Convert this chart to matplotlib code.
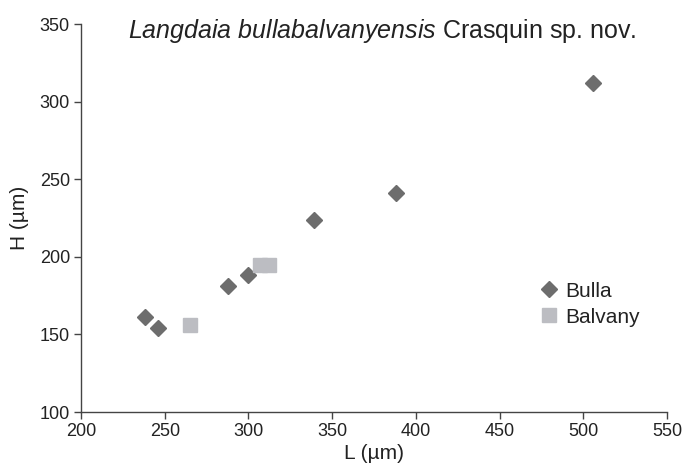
import matplotlib
matplotlib.use("Agg")
import matplotlib.pyplot as plt

# Bulla specimens
bulla_L = [238, 246, 288, 300, 339, 388, 506]
bulla_H = [161, 154, 181, 188, 224, 241, 312]

# Balvany specimens
balvany_L = [265, 307, 312]
balvany_H = [156, 195, 195]

x_ticks = [200, 250, 300, 350, 400, 450, 500, 550]
y_ticks = [100, 150, 200, 250, 300, 350]

plt.rcParams["font.family"] = ["Liberation Sans", "DejaVu Sans"]
plt.rcParams["mathtext.fontset"] = "custom"
plt.rcParams["mathtext.rm"] = "Liberation Sans"
plt.rcParams["mathtext.it"] = "Liberation Sans:italic"
text_col = "#222222"

fig = plt.figure(figsize=(6.83, 4.69), dpi=100)
ax = fig.add_axes([0.1186, 0.1215, 0.858, 0.8273])

ax.plot(bulla_L, bulla_H, linestyle="none", marker="D", markersize=8.5,
        color="#6d6d6d", label="Bulla")
ax.plot(balvany_L, balvany_H, linestyle="none", marker="s", markersize=10.5,
        color="#bcbdc2", label="Balvany")

ax.set_xlim(200, 550)
ax.set_ylim(100, 350)
ax.set_xticks(x_ticks)
ax.set_yticks(y_ticks)

for side in ["top", "right"]:
    ax.spines[side].set_visible(False)
for side in ["left", "bottom"]:
    ax.spines[side].set_color("#444444")
    ax.spines[side].set_linewidth(1.0)
ax.tick_params(colors="#444444", labelcolor=text_col, labelsize=13,
               length=5, width=1.0, pad=3)

ax.set_xlabel("L (µm)", fontsize=15, color=text_col, labelpad=3)
ax.set_ylabel("H (µm)", fontsize=15, color=text_col, labelpad=8)

ax.text(0.514, 0.982, r"$\it{Langdaia\ bullabalvanyensis}$" + " Crasquin sp. nov.",
        transform=ax.transAxes, ha="center", va="center", fontsize=18,
        color=text_col)

ax.legend(loc="center left", bbox_to_anchor=(0.783, 0.278), frameon=False,
          fontsize=15, handletextpad=0.3, labelspacing=0.33,
          handlelength=0.9, borderaxespad=0, borderpad=0,
          labelcolor=text_col)

fig.savefig("out.png", dpi=100)
